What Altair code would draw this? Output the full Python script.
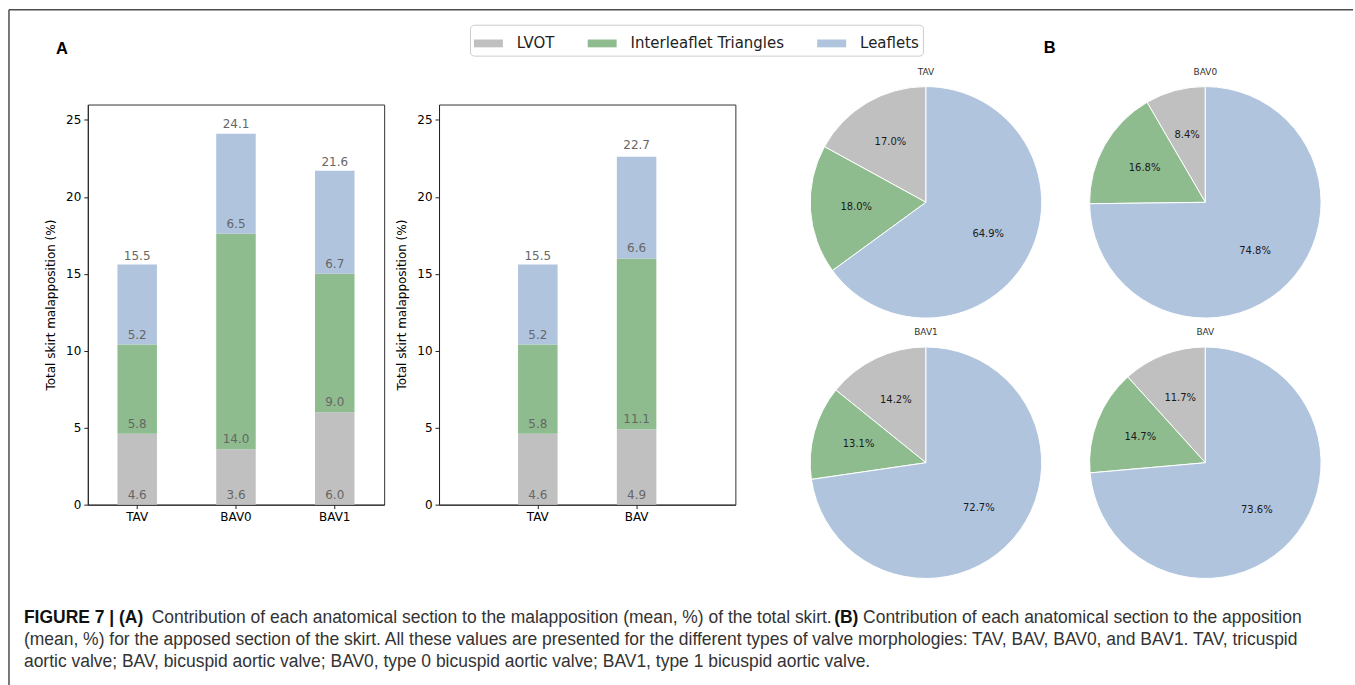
import math

import altair as alt
import pandas as pd

# Anatomical sections and their colours
SECTIONS = ["LVOT", "Interleaflet Triangles", "Leaflets"]
SECTION_COLORS = ["#c0c0c0", "#8fbc8f", "#b0c4de"]

# Panel A (left): malapposition of the total skirt (mean, %)
valves_a1 = ["TAV", "BAV0", "BAV1"]
lvot_a1 = [4.6, 3.6, 6.0]
triangles_a1 = [5.8, 14.0, 9.0]
leaflets_a1 = [5.2, 6.5, 6.7]
totals_a1 = [15.5, 24.1, 21.6]

# Panel A (right): TAV vs pooled BAV
valves_a2 = ["TAV", "BAV"]
lvot_a2 = [4.6, 4.9]
triangles_a2 = [5.8, 11.1]
leaflets_a2 = [5.2, 6.6]
totals_a2 = [15.5, 22.7]

# Panel B: share of the apposed skirt section (mean, %), laid out two per row
pie_valves = ["TAV", "BAV0", "BAV1", "BAV"]
pie_lvot = [17.0, 8.4, 14.2, 11.7]
pie_triangles = [18.0, 16.8, 13.1, 14.7]
pie_leaflets = [64.9, 74.8, 72.7, 73.6]

CAPTION_L1 = [
    ("FIGURE 7 | (A)", "bold"),
    ("Contribution of each anatomical section to the malapposition (mean, %) of the total skirt.", "normal"),
    ("(B)", "bold"),
    ("Contribution of each anatomical section to the apposition", "normal"),
]
CAPTION_L2 = ("(mean, %) for the apposed section of the skirt. All these values are presented for the "
              "different types of valve morphologies: TAV, BAV, BAV0, and BAV1. TAV, tricuspid")
CAPTION_L3 = ("aortic valve; BAV, bicuspid aortic valve; BAV0, type 0 bicuspid aortic valve; "
              "BAV1, type 1 bicuspid aortic valve.")

Y_TITLE = "Total skirt malapposition (%)"
PLOT_W, PLOT_H = 297, 401
OX, OY = 87, 103          # page position of the first plot area
PIE_R = 116

color_scale = alt.Scale(domain=SECTIONS, range=SECTION_COLORS)
shared_legend = alt.Legend(
    title=None, orient="none", legendX=383, legendY=-80, direction="horizontal", columns=3,
    symbolType="M-1,-0.27H1V0.27H-1Z", symbolSize=841, symbolStrokeWidth=0,
    labelFont="DejaVu Sans", labelFontSize=15, labelColor="#222222", labelOffset=14,
    columnPadding=33, padding=4, strokeColor="#cccccc", cornerRadius=4, fillColor="white",
)


def stacked_frame(valves, lvot, tri, leaf):
    rows = []
    for i, v in enumerate(valves):
        for k, (sec, val) in enumerate(zip(SECTIONS, (lvot[i], tri[i], leaf[i]))):
            rows.append({"valve": v, "section": sec, "value": val, "rank": k})
    return pd.DataFrame(rows)


def bar_panel(valves, lvot, tri, leaf, totals, outer_pad, extra_layers=()):
    seg = stacked_frame(valves, lvot, tri, leaf)
    tot = pd.DataFrame({"valve": valves, "total": totals})
    x = alt.X("valve:N", sort=valves, title=None,
              scale=alt.Scale(paddingInner=0.6, paddingOuter=outer_pad),
              axis=alt.Axis(labelAngle=0, labelPadding=3))
    y_scale = alt.Scale(domain=[0, 26], nice=False)
    y_axis = alt.Axis(values=[0, 5, 10, 15, 20, 25], titlePadding=8, labelPadding=3)
    base = alt.Chart(seg).transform_stack(
        stack="value", groupby=["valve"], as_=["y0", "y1"],
        sort=[alt.SortField("rank", order="ascending")],
    )
    bars = base.mark_bar().encode(
        x=x,
        y=alt.Y("y0:Q", scale=y_scale, axis=y_axis, title=Y_TITLE),
        y2="y1:Q",
        color=alt.Color("section:N", scale=color_scale, legend=shared_legend),
    )
    seg_labels = base.mark_text(dy=-10, font="DejaVu Sans", fontSize=12, color="#666666").encode(
        x=x,
        y=alt.Y("y0:Q", scale=y_scale, title=Y_TITLE),
        text=alt.Text("value:Q", format=".1f"),
    )
    tot_labels = alt.Chart(tot).mark_text(dy=-10, font="DejaVu Sans", fontSize=12, color="#666666").encode(
        x=x,
        y=alt.Y("total:Q", scale=y_scale, title=Y_TITLE),
        text=alt.Text("total:Q", format=".1f"),
    )
    return alt.layer(*extra_layers, bars, seg_labels, tot_labels).properties(
        width=PLOT_W, height=PLOT_H,
        view=alt.ViewBackground(stroke="#333333", strokeWidth=1),
    )


def pie_grid():
    rows, heads = [], []
    for i, v in enumerate(pie_valves):
        col, row = i % 2, i // 2
        heads.append({"valve": v, "col": col, "row": row})
        parts = (pie_lvot[i], pie_triangles[i], pie_leaflets[i])
        for k, (sec, val) in enumerate(zip(SECTIONS, parts)):
            # leaflets first clockwise from 12 o'clock, LVOT last
            rows.append({"valve": v, "col": col, "row": row, "section": sec, "pct": val, "turn": 2 - k})
    df = pd.DataFrame(rows)
    px = alt.X("col:Q", scale=alt.Scale(domain=[0, 1], range=[136, 416]), axis=None)
    py = alt.Y("row:Q", scale=alt.Scale(domain=[0, 1], range=[98, 359]), axis=None)
    theta_scale = alt.Scale(domain=[0, 1], range=[0, 2 * math.pi])
    base = alt.Chart(df).transform_stack(
        stack="pct", groupby=["valve"], as_=["t0", "t1"],
        sort=[alt.SortField("turn", order="ascending")], offset="normalize",
    ).transform_calculate(
        mid="(datum.t0 + datum.t1) / 2",
        label="format(datum.pct, '.1f') + '%'",
    )
    arcs = base.mark_arc(outerRadius=PIE_R, stroke="white", strokeWidth=1).encode(
        x=px, y=py,
        theta=alt.Theta("t0:Q", scale=theta_scale), theta2="t1:Q",
        color=alt.Color("section:N", scale=color_scale, legend=shared_legend),
    )
    labels = base.mark_text(radius=round(PIE_R * 0.6), font="DejaVu Sans", fontSize=10,
                            color="#1a1a1a").encode(
        x=px, y=py,
        theta=alt.Theta("mid:Q", scale=theta_scale),
        text="label:N",
    )
    titles = alt.Chart(pd.DataFrame(heads)).mark_text(
        dy=-131, font="DejaVu Sans", fontSize=9, color="#333333"
    ).encode(x=px, y=py, text="valve:N")
    return alt.layer(arcs, labels, titles).properties(width=540, height=480)


# Page furniture drawn in the first panel's coordinate frame
one = pd.DataFrame({"k": [0]})
page = alt.Chart(one).mark_rect(color="white", opacity=0).encode(
    x=alt.value(-OX), x2=alt.value(1355 - OX), y=alt.value(-OY), y2=alt.value(685 - OY))
frame_top = alt.Chart(one).mark_rule(color="#4d4d4d", strokeWidth=1.5).encode(
    x=alt.value(8 - OX), x2=alt.value(1355 - OX), y=alt.value(8 - OY))
frame_left = alt.Chart(one).mark_rule(color="#4d4d4d", strokeWidth=1.5).encode(
    x=alt.value(8 - OX), y=alt.value(8 - OY), y2=alt.value(685 - OY))
panel_a = alt.Chart(one).mark_text(text="A", font="Liberation Sans", fontSize=16.5, fontWeight="bold",
                                   color="black").encode(x=alt.value(61 - OX), y=alt.value(47 - OY))
panel_b = alt.Chart(one).mark_text(text="B", font="Liberation Sans", fontSize=16.5, fontWeight="bold",
                                   color="black").encode(x=alt.value(1051 - OX), y=alt.value(46 - OY))

CAP_FONT = 17.5
cap_x1 = [23, 151, 835, 864]
caption_layers = []
for (txt, weight), cx in zip(CAPTION_L1, cap_x1):
    caption_layers.append(
        alt.Chart(one).mark_text(text=txt, font="Liberation Sans", fontSize=CAP_FONT, fontWeight=weight,
                                 align="left", baseline="alphabetic",
                                 color="#111111" if weight == "bold" else "#333333")
        .encode(x=alt.value(cx - OX), y=alt.value(623 - OY))
    )
for txt, by in ((CAPTION_L2, 645), (CAPTION_L3, 667)):
    caption_layers.append(
        alt.Chart(one).mark_text(text=txt, font="Liberation Sans", fontSize=CAP_FONT, align="left",
                                 baseline="alphabetic", color="#333333")
        .encode(x=alt.value(23 - OX), y=alt.value(by - OY))
    )

left_bars = bar_panel(valves_a1, lvot_a1, triangles_a1, leaflets_a1, totals_a1, 0.3,
                      extra_layers=[page, frame_top, frame_left, panel_a, panel_b, *caption_layers])
right_bars = bar_panel(valves_a2, lvot_a2, triangles_a2, leaflets_a2, totals_a2, 0.8)

chart = alt.hconcat(
    left_bars, right_bars, pie_grid(),
    spacing=55, bounds="flush",
).properties(padding=0).configure(
    font="DejaVu Sans"
).configure_view(
    stroke="transparent"
).configure_axis(
    labelFont="DejaVu Sans", titleFont="DejaVu Sans", labelFontSize=12, titleFontSize=12,
    labelColor="black", titleColor="black", titleFontWeight="normal",
    domainColor="#222222", tickColor="#222222", tickSize=4, grid=False,
)

chart.save("out.html", embed_options={"renderer": "svg", "actions": False})
